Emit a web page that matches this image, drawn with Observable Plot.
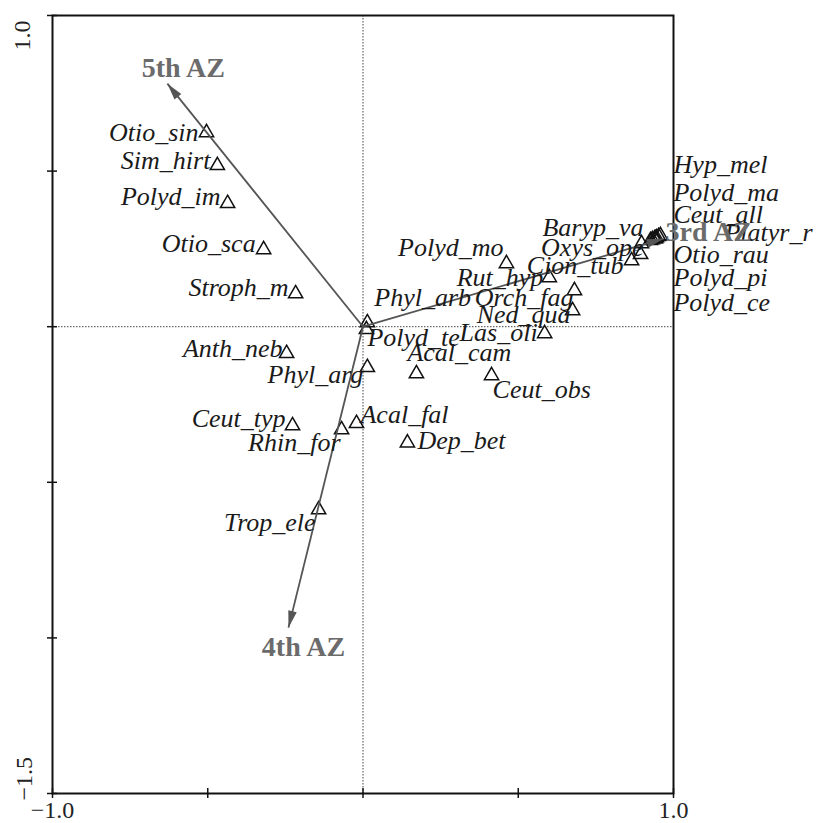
<!DOCTYPE html>
<html><head><meta charset="utf-8">
<script src="https://cdn.jsdelivr.net/npm/d3@7"></script>
<script src="https://cdn.jsdelivr.net/npm/@observablehq/plot@0.6"></script>
<style>html,body{margin:0;padding:0;background:#fff}</style>
</head><body><div id="chart"></div>
<script>
// ---- data ----
const species = ["Otio_sin","Sim_hirt","Polyd_im","Otio_sca","Stroph_m","Phyl_arb","Polyd_te","Anth_neb","Phyl_arg","Acal_cam","Ceut_obs","Ceut_typ","Rhin_for","Acal_fal","Dep_bet","Trop_ele","Las_oli","Ned_qua","Orch_fag","Rut_hyp","Polyd_mo","Cion_tub","Oxys_ope","Baryp_va","Hyp_mel","Polyd_ma","Ceut_all","Platyr_r","Otio_rau","Polyd_pi","Polyd_ce"];
const axisA = [-0.504,-0.469,-0.436,-0.320,-0.217,0.014,0.011,-0.246,0.014,0.172,0.414,-0.227,-0.069,-0.021,0.143,-0.143,0.585,0.675,0.681,0.600,0.462,0.865,0.894,0.897,0.952,0.942,0.932,0.958,0.926,0.939,0.945];
const axisB = [0.624,0.518,0.396,0.248,0.106,0.013,-0.009,-0.086,-0.131,-0.151,-0.157,-0.318,-0.331,-0.311,-0.373,-0.588,-0.022,0.052,0.116,0.158,0.203,0.212,0.232,0.267,0.290,0.283,0.280,0.293,0.277,0.283,0.286];
const vectorNames = ["3rd AZ","4th AZ","5th AZ"];
const vectorX = [0.968,-0.240,-0.630];
const vectorY = [0.283,-0.967,0.781];
const xTicks = [-1,-0.5,0,0.5,1];
const yTicks = [-1.5,-1,-0.5,0,0.5,1];
const xTickLabels = [-1,1];
const yTickLabelTop = [1];
const yTickLabelBottom = [-1.5];

// ---- layout (pixel offsets of labels, styles) ----
const labelLayout = {
  Otio_sin:[-8,8,"end"], Sim_hirt:[-7,4,"end"], Polyd_im:[-7,2,"end"], Otio_sca:[-8,2,"end"], Stroph_m:[-7,2,"end"],
  Phyl_arb:[7,-17,"start"], Polyd_te:[1,16,"start"], Anth_neb:[-4,4,"end"], Phyl_arg:[-4,16,"end"],
  Acal_cam:[-9,-13,"start"], Ceut_obs:[1,22,"start"], Ceut_typ:[-7,1,"end"], Rhin_for:[-1,21,"end"],
  Acal_fal:[4,0,"start"], Dep_bet:[10,6,"start"], Trop_ele:[-3,21,"end"], Las_oli:[-7,7,"end"],
  Ned_qua:[-2,12,"end"], Orch_fag:[-1,15,"end"], Rut_hyp:[-6,8,"end"], Polyd_mo:[-3,-8,"end"],
  Cion_tub:[-8,13,"end"], Oxys_ope:[3,1,"end"], Baryp_va:[2,-8,"end"],
  Hyp_mel:[15,-63,"start"], Polyd_ma:[18,-38,"start"], Ceut_all:[21,-17,"start"], Platyr_r:[64,5,"start"],
  Otio_rau:[23,23,"start"], Polyd_pi:[19,47,"start"], Polyd_ce:[17,73,"start"]
};
const vectorLayout = {"3rd AZ":[2,2,"start"], "4th AZ":[15,28,"middle"], "5th AZ":[16,-7,"middle"]};

const W = 816, H = 823, mL = 52, mR = 143, mT = 15, mB = 30;
const kx = (W - mL - mR) / 2, ky = (H - mT - mB) / 2.5;

const pts = species.map((s, i) => ({name: s, x: axisA[i], y: axisB[i]}));
const vecs = vectorNames.map((n, i) => ({name: n, x: vectorX[i], y: vectorY[i],
  angle: Math.atan2(-vectorY[i] * ky, vectorX[i] * kx) * 180 / Math.PI}));

const headSymbol = {draw(ctx, size) {
  const r = Math.sqrt(size / Math.PI), L = 2.4 * r, w = 0.62 * r;
  ctx.moveTo(0, 0); ctx.lineTo(-L, -w); ctx.lineTo(-L, w); ctx.closePath();
}};

const labelMarks = pts.map(p => {
  const [dx, dy, anchor] = labelLayout[p.name];
  return Plot.text([p], {x: "x", y: "y", text: "name", dx, dy, textAnchor: anchor, lineAnchor: "bottom",
    fontSize: 26, fontStyle: "italic", fill: "#1a1a1a"});
});
const vecLabelMarks = vecs.map(v => {
  const [dx, dy, anchor] = vectorLayout[v.name];
  return Plot.text([v], {x: "x", y: "y", text: "name", dx, dy, textAnchor: anchor, lineAnchor: "bottom",
    fontSize: 28, fontWeight: "bold", fill: "#6b6b6b"});
});

const fmt = d3.format(".1f");
const chart = Plot.plot({
  width: W, height: H, marginLeft: mL, marginRight: mR, marginTop: mT, marginBottom: mB,
  x: {domain: [-1, 1]},
  y: {domain: [-1.5, 1]},
  style: {background: "#fff", fontFamily: "'Liberation Serif', 'Times New Roman', serif", overflow: "visible"},
  marks: [
    Plot.ruleX([0], {stroke: "#444", strokeDasharray: "1.5,1.5", strokeWidth: 1}),
    Plot.ruleY([0], {stroke: "#444", strokeDasharray: "1.5,1.5", strokeWidth: 1}),
    Plot.axisX({ticks: xTicks, tickSize: 10, dy: -5, tickFormat: () => "", label: null, strokeWidth: 1.5, stroke: "#111"}),
    Plot.axisY({ticks: yTicks, tickSize: 10, dx: 5, tickFormat: () => "", label: null, strokeWidth: 1.5, stroke: "#111"}),
    Plot.axisX({ticks: xTickLabels, tickSize: 0, tickPadding: 7, tickFormat: fmt, label: null, fontSize: 24, fill: "#222"}),
    Plot.text(yTickLabelTop, {y: d => d, frameAnchor: "left", text: fmt, rotate: -90, dx: -30, dy: 5, textAnchor: "end", lineAnchor: "middle", fontSize: 24, fill: "#222"}),
    Plot.text(yTickLabelBottom, {y: d => d, frameAnchor: "left", text: fmt, rotate: -90, dx: -28, dy: 7, textAnchor: "start", lineAnchor: "middle", fontSize: 24, fill: "#222"}),
    Plot.frame({stroke: "#111", strokeWidth: 2}),
    Plot.dot(pts, {x: "x", y: "y", symbol: "triangle", r: 5.3, stroke: "#111", strokeWidth: 1.5, fill: "none"}),
    Plot.link(vecs, {x1: 0, y1: 0, x2: "x", y2: "y", stroke: "#555", strokeWidth: 1.8}),
    Plot.dot(vecs, {x: "x", y: "y", symbol: headSymbol, r: 7, fill: "#555", stroke: "none", rotate: "angle"}),
    ...labelMarks,
    ...vecLabelMarks
  ]
});
document.getElementById("chart").appendChild(chart);
</script>
</body></html>
